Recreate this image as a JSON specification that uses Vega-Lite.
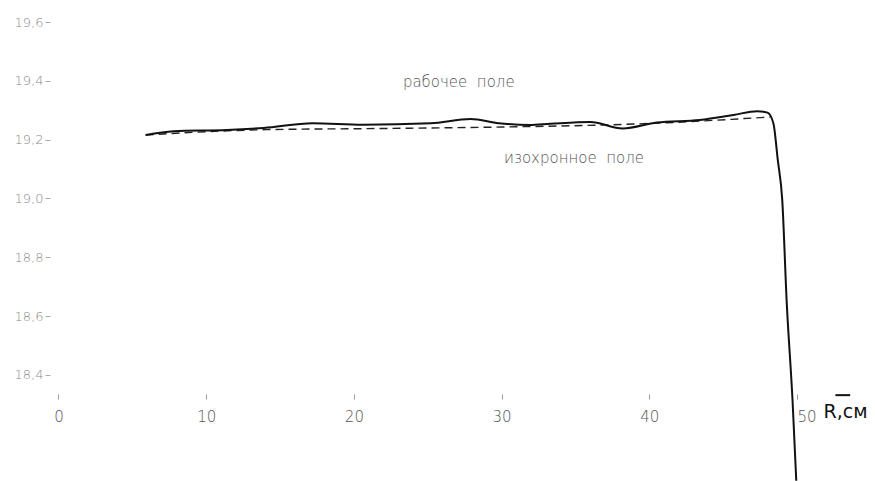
{
  "$schema": "https://vega.github.io/schema/vega-lite/v6.json",
  "width": 825,
  "height": 481,
  "autosize": "none",
  "padding": {"left": 50, "top": 0, "right": 0, "bottom": 0},
  "background": "white",
  "config": {"view": {"stroke": null}},
  "datasets": {
    "working": [
      {"r": 5.9, "b": 19.216},
      {"r": 7.8, "b": 19.229},
      {"r": 11.4, "b": 19.233},
      {"r": 13.9, "b": 19.240},
      {"r": 17.2, "b": 19.256},
      {"r": 20.6, "b": 19.251},
      {"r": 25.2, "b": 19.256},
      {"r": 27.9, "b": 19.270},
      {"r": 29.8, "b": 19.256},
      {"r": 31.9, "b": 19.250},
      {"r": 33.3, "b": 19.254},
      {"r": 36.0, "b": 19.260},
      {"r": 38.2, "b": 19.238},
      {"r": 40.5, "b": 19.258},
      {"r": 43.4, "b": 19.267},
      {"r": 45.7, "b": 19.284},
      {"r": 47.3, "b": 19.297},
      {"r": 48.0, "b": 19.292},
      {"r": 48.4, "b": 19.256},
      {"r": 48.7, "b": 19.13},
      {"r": 49.0, "b": 18.995},
      {"r": 49.3, "b": 18.65},
      {"r": 49.7, "b": 18.31},
      {"r": 49.95, "b": 18.04}
    ],
    "isochronous": [
      {"r": 5.9, "b": 19.216},
      {"r": 14.0, "b": 19.234},
      {"r": 22.0, "b": 19.238},
      {"r": 30.0, "b": 19.243},
      {"r": 40.0, "b": 19.255},
      {"r": 48.2, "b": 19.277}
    ],
    "labels": [
      {"r": 27.1, "b": 19.395, "t": "рабочее\u00a0\u00a0поле"},
      {"r": 34.9, "b": 19.137, "t": "изохронное\u00a0\u00a0поле"}
    ],
    "unit": [
      {"r": 51.8, "b": 18.273, "t": "R,см"}
    ],
    "arrow": [
      {"r": 52.6, "r2": 53.6, "b": 18.331}
    ]
  },
  "layer": [
    {
      "data": {"name": "isochronous"},
      "mark": {"type": "line", "color": "#222", "strokeWidth": 1.4, "strokeDash": [8, 5], "interpolate": "monotone", "clip": true},
      "encoding": {
        "x": {"field": "r", "type": "quantitative",
          "scale": {"domain": [-0.575, 55.28], "nice": false, "zero": false},
          "axis": {"values": [0, 10, 20, 30, 40, 50], "title": null, "domain": false, "grid": false,
            "offset": -87, "tickSize": 5, "tickColor": "#999", "labelPadding": 10, "labelFlush": false,
            "labelAlign": {"condition": {"test": "datum.value >= 49", "value": "left"}, "value": "center"},
            "labelFont": "DejaVu Sans", "labelFontSize": 15, "labelColor": "#555", "labelFontWeight": 300}},
        "y": {"field": "b", "type": "quantitative",
          "scale": {"domain": [18.039, 19.675], "nice": false, "zero": false},
          "axis": {"values": [18.4, 18.6, 18.8, 19.0, 19.2, 19.4, 19.6], "format": ".1f",
            "labelExpr": "replace(datum.label, '.', ',')",
            "title": null, "domain": false, "grid": false, "tickSize": 5, "tickColor": "#aaa", "labelPadding": 2,
            "labelFont": "DejaVu Sans", "labelFontSize": 13, "labelColor": "#888", "labelFontWeight": 300}}
      }
    },
    {
      "data": {"name": "working"},
      "mark": {"type": "line", "color": "#111", "strokeWidth": 2, "interpolate": "monotone", "clip": true},
      "encoding": {
        "x": {"field": "r", "type": "quantitative"},
        "y": {"field": "b", "type": "quantitative"}
      }
    },
    {
      "data": {"name": "labels"},
      "mark": {"type": "text", "font": "DejaVu Sans", "fontSize": 15, "fontWeight": 300, "color": "#555", "align": "center", "baseline": "middle", "letterSpacing": 2},
      "encoding": {
        "x": {"field": "r", "type": "quantitative"},
        "y": {"field": "b", "type": "quantitative"},
        "text": {"field": "t"}
      }
    },
    {
      "data": {"name": "unit"},
      "mark": {"type": "text", "font": "DejaVu Sans", "fontSize": 19, "color": "#111", "align": "left", "baseline": "middle"},
      "encoding": {
        "x": {"field": "r", "type": "quantitative"},
        "y": {"field": "b", "type": "quantitative"},
        "text": {"field": "t"}
      }
    },
    {
      "data": {"name": "arrow"},
      "mark": {"type": "rule", "color": "#111", "strokeWidth": 2},
      "encoding": {
        "x": {"field": "r", "type": "quantitative"},
        "x2": {"field": "r2"},
        "y": {"field": "b", "type": "quantitative"}
      }
    }
  ]
}
